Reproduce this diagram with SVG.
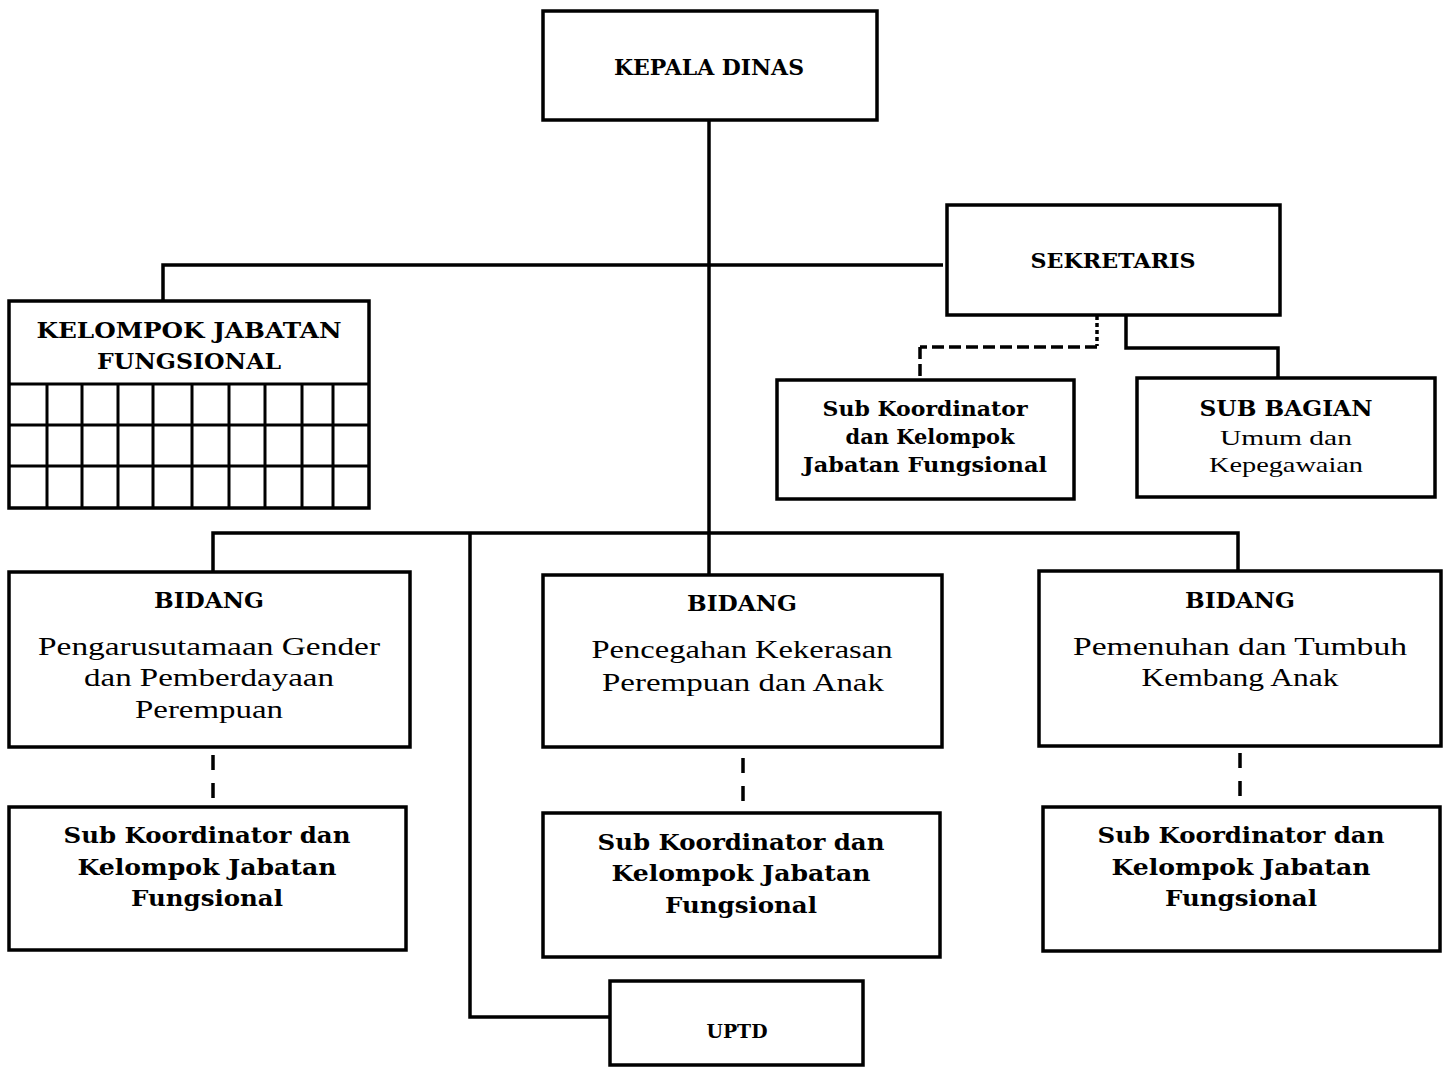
<svg xmlns="http://www.w3.org/2000/svg" width="1446" height="1067" viewBox="0 0 1446 1067">
<style>
.box{fill:#fff;stroke:#000;stroke-width:3.5}
.ln{fill:none;stroke:#000;stroke-width:3.5}
.grid{fill:none;stroke:#000;stroke-width:3}
.dash{fill:none;stroke:#000;stroke-width:3.5;stroke-dasharray:15 13}
.t{font-family:"DejaVu Serif","Liberation Serif",serif;fill:#000;text-anchor:middle}
.b{font-weight:bold}
.r{font-family:"Liberation Serif","DejaVu Serif",serif;font-weight:normal}
</style>
<rect width="1446" height="1067" fill="#fff"/>
<g id="connectors">
<line class="ln" x1="709" y1="120" x2="709" y2="575"/>
<polyline class="ln" points="163,300 163,265 943,265"/>
<line class="ln" x1="1097" y1="316" x2="1097" y2="346" stroke-dasharray="4 3"/>
<polyline class="ln" points="1097,347 920,347" stroke-dasharray="12 5"/>
<line class="ln" x1="920" y1="347" x2="920" y2="380" stroke-dasharray="12 5"/>
<polyline class="ln" points="1126,315 1126,348 1278,348 1278,378"/>
<polyline class="ln" points="213,571 213,533 1238,533 1238,571"/>
<polyline class="ln" points="470,533 470,1017 610,1017"/>
<line class="dash" x1="213" y1="755" x2="213" y2="800"/>
<line class="dash" x1="743" y1="758" x2="743" y2="803"/>
<line class="dash" x1="1240" y1="753" x2="1240" y2="798"/>
</g>
<g id="kepala">
<rect class="box" x="543" y="11" width="334" height="109"/>
<text class="t b" x="709" y="75" font-size="22" textLength="190" lengthAdjust="spacingAndGlyphs">KEPALA DINAS</text>
</g>
<g id="sekretaris">
<rect class="box" x="947" y="205" width="333" height="110"/>
<text class="t b" x="1113" y="268" font-size="21" textLength="165" lengthAdjust="spacingAndGlyphs">SEKRETARIS</text>
</g>
<g id="kjf">
<rect class="box" x="9" y="301" width="360" height="207"/>
<text class="t b" x="189" y="338" font-size="23" textLength="305" lengthAdjust="spacingAndGlyphs">KELOMPOK JABATAN</text>
<text class="t b" x="189" y="369" font-size="23" textLength="184" lengthAdjust="spacingAndGlyphs">FUNGSIONAL</text>
<path class="grid" d="M9 384H369M9 425H369M9 466H369M47 384V508M82 384V508M118 384V508M153 384V508M192 384V508M229 384V508M265 384V508M302 384V508M333 384V508"/>
</g>
<g id="subkoor-sek">
<rect class="box" x="777" y="380" width="297" height="119"/>
<text class="t b" x="925" y="416" font-size="21" textLength="205" lengthAdjust="spacingAndGlyphs">Sub Koordinator</text>
<text class="t b" x="930" y="444" font-size="21" textLength="169" lengthAdjust="spacingAndGlyphs">dan Kelompok</text>
<text class="t b" x="925" y="472" font-size="21" textLength="244" lengthAdjust="spacingAndGlyphs">Jabatan Fungsional</text>
</g>
<g id="subbagian">
<rect class="box" x="1137" y="378" width="298" height="119"/>
<text class="t b" x="1286" y="416" font-size="23" textLength="173" lengthAdjust="spacingAndGlyphs">SUB BAGIAN</text>
<text class="t r" x="1286" y="445" font-size="22" textLength="132" lengthAdjust="spacingAndGlyphs">Umum dan</text>
<text class="t r" x="1286" y="472" font-size="22" textLength="154" lengthAdjust="spacingAndGlyphs">Kepegawaian</text>
</g>
<g id="bidang1">
<rect class="box" x="9" y="572" width="401" height="175"/>
<text class="t b" x="209" y="608" font-size="23" textLength="110" lengthAdjust="spacingAndGlyphs">BIDANG</text>
<text class="t r" x="209" y="655" font-size="25" textLength="342" lengthAdjust="spacingAndGlyphs">Pengarusutamaan Gender</text>
<text class="t r" x="209" y="686" font-size="25" textLength="250" lengthAdjust="spacingAndGlyphs">dan Pemberdayaan</text>
<text class="t r" x="209" y="718" font-size="25" textLength="148" lengthAdjust="spacingAndGlyphs">Perempuan</text>
</g>
<g id="bidang2">
<rect class="box" x="543" y="575" width="399" height="172"/>
<text class="t b" x="742" y="611" font-size="23" textLength="110" lengthAdjust="spacingAndGlyphs">BIDANG</text>
<text class="t r" x="742" y="658" font-size="25" textLength="301" lengthAdjust="spacingAndGlyphs">Pencegahan Kekerasan</text>
<text class="t r" x="743" y="691" font-size="25" textLength="282" lengthAdjust="spacingAndGlyphs">Perempuan dan Anak</text>
</g>
<g id="bidang3">
<rect class="box" x="1039" y="571" width="402" height="175"/>
<text class="t b" x="1240" y="608" font-size="23" textLength="110" lengthAdjust="spacingAndGlyphs">BIDANG</text>
<text class="t r" x="1240" y="655" font-size="25" textLength="334" lengthAdjust="spacingAndGlyphs">Pemenuhan dan Tumbuh</text>
<text class="t r" x="1240" y="686" font-size="25" textLength="197" lengthAdjust="spacingAndGlyphs">Kembang Anak</text>
</g>
<g id="subkoor1">
<rect class="box" x="9" y="807" width="397" height="143"/>
<text class="t b" x="207" y="843" font-size="23" textLength="287" lengthAdjust="spacingAndGlyphs">Sub Koordinator dan</text>
<text class="t b" x="207" y="875" font-size="23" textLength="259" lengthAdjust="spacingAndGlyphs">Kelompok Jabatan</text>
<text class="t b" x="207" y="906" font-size="23" textLength="152" lengthAdjust="spacingAndGlyphs">Fungsional</text>
</g>
<g id="subkoor2">
<rect class="box" x="543" y="813" width="397" height="144"/>
<text class="t b" x="741" y="850" font-size="23" textLength="287" lengthAdjust="spacingAndGlyphs">Sub Koordinator dan</text>
<text class="t b" x="741" y="881" font-size="23" textLength="259" lengthAdjust="spacingAndGlyphs">Kelompok Jabatan</text>
<text class="t b" x="741" y="913" font-size="23" textLength="152" lengthAdjust="spacingAndGlyphs">Fungsional</text>
</g>
<g id="subkoor3">
<rect class="box" x="1043" y="807" width="397" height="144"/>
<text class="t b" x="1241" y="843" font-size="23" textLength="287" lengthAdjust="spacingAndGlyphs">Sub Koordinator dan</text>
<text class="t b" x="1241" y="875" font-size="23" textLength="259" lengthAdjust="spacingAndGlyphs">Kelompok Jabatan</text>
<text class="t b" x="1241" y="906" font-size="23" textLength="152" lengthAdjust="spacingAndGlyphs">Fungsional</text>
</g>
<g id="uptd">
<rect class="box" x="610" y="981" width="253" height="84"/>
<text class="t b" x="737" y="1038" font-size="18" textLength="61" lengthAdjust="spacingAndGlyphs">UPTD</text>
</g>
</svg>
